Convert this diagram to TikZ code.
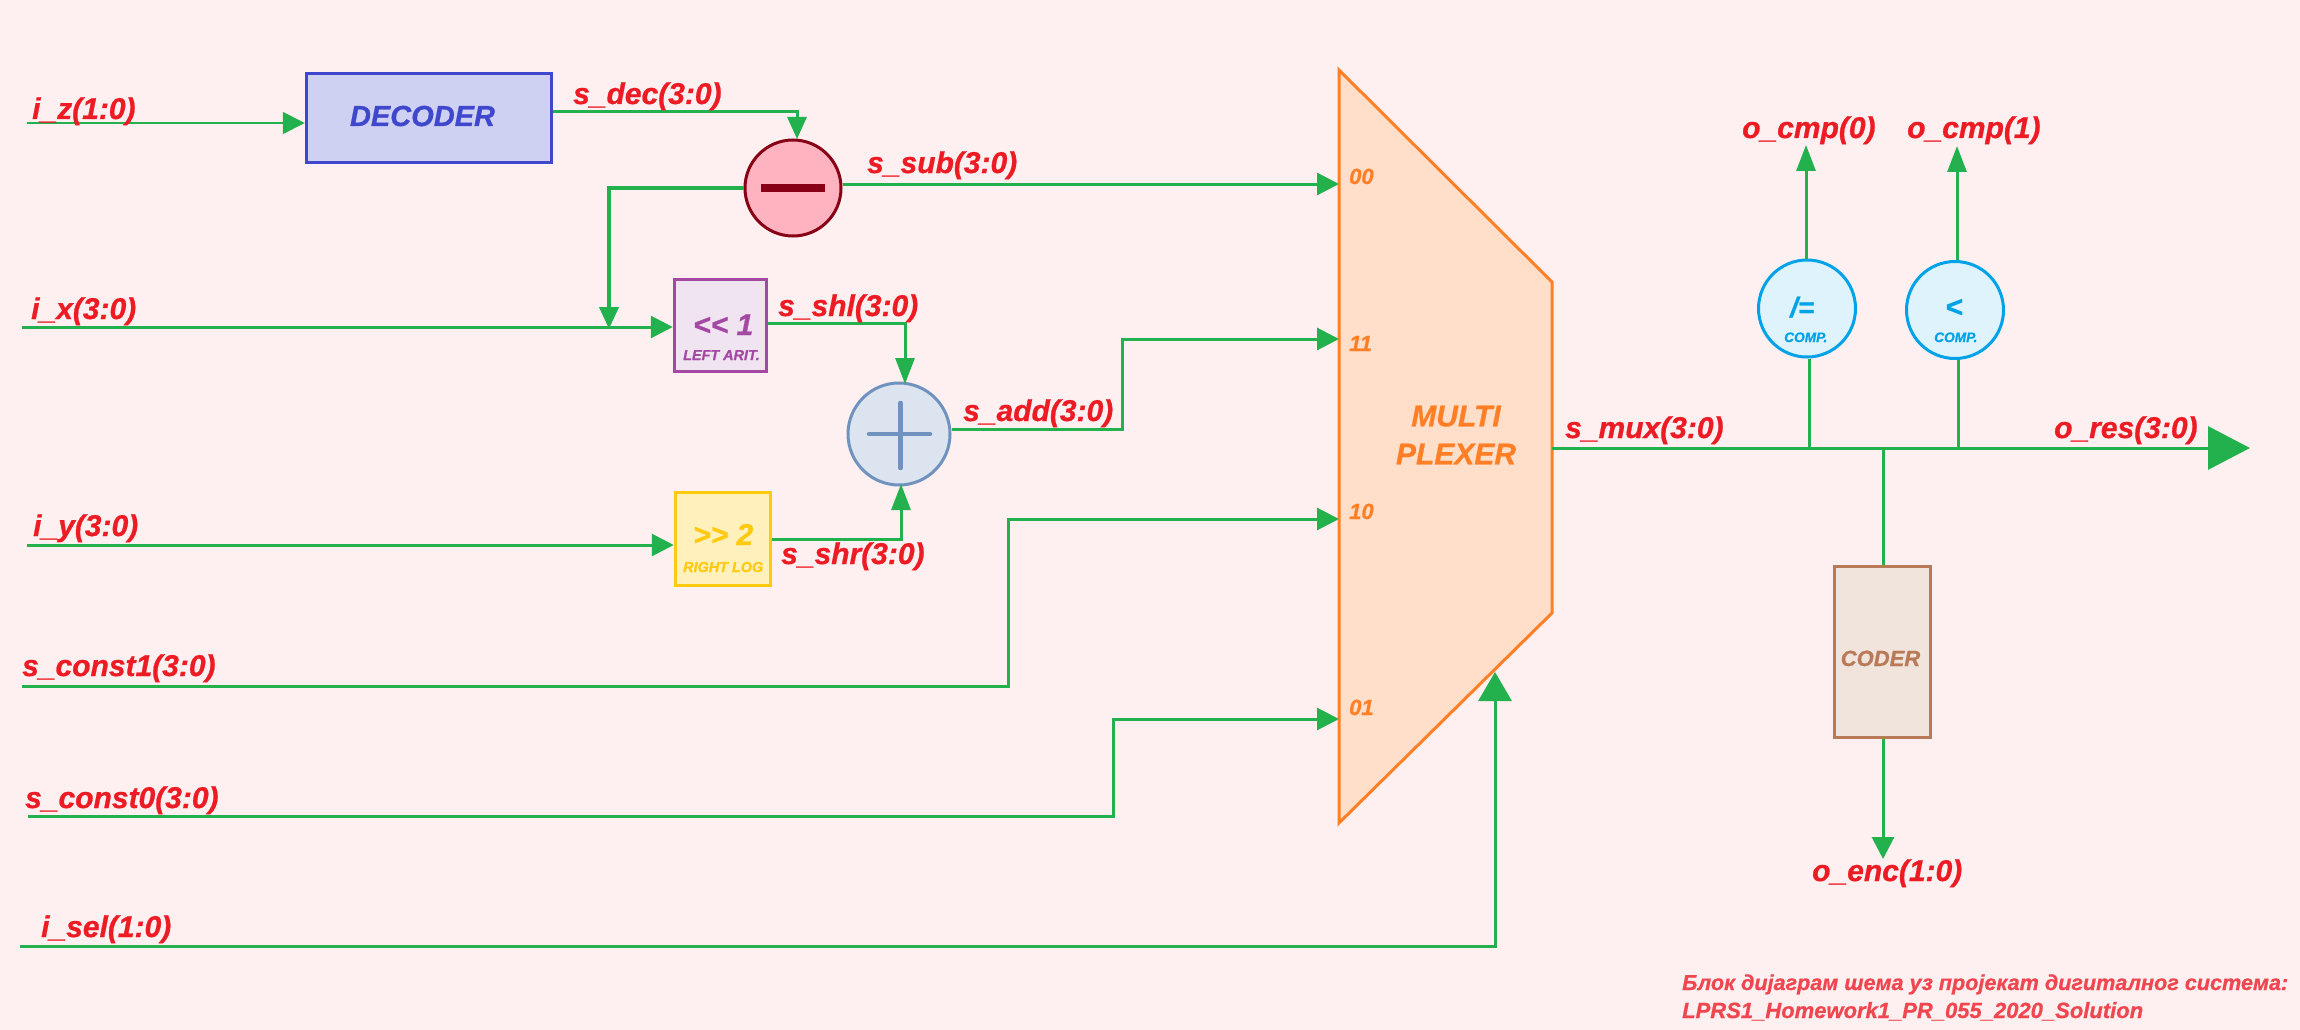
\documentclass[tikz,border=0pt]{standalone}
\usepackage{fontspec}
\setmainfont[BoldItalicFeatures={FakeBold=0.8}]{Liberation Sans}
\usetikzlibrary{arrows.meta}
\definecolor{bgcol}{HTML}{FEF0F0}
\definecolor{wirecol}{HTML}{22B14C}
\definecolor{sigcol}{HTML}{ED1C24}
\definecolor{notecol}{HTML}{F04650}
\definecolor{deccol}{HTML}{3F48CC}
\definecolor{subcol}{HTML}{880015}
\definecolor{subfill}{HTML}{FFB3C0}
\definecolor{shlcol}{HTML}{A349A4}
\definecolor{shrcol}{HTML}{FFC90E}
\definecolor{addcol}{HTML}{7092BE}
\definecolor{muxcol}{HTML}{FF7F27}
\definecolor{cmpcol}{HTML}{00A2E8}
\definecolor{codcol}{HTML}{B97A57}
\newcommand{\fs}[1]{\fontsize{#1}{#1}\selectfont\bfseries\itshape}
\tikzset{%
  wire/.style = {draw=wirecol, line width=3pt},
  thinwire/.style = {draw=wirecol, line width=2pt},
  tip/.style = {-{Triangle[length=22pt,width=22pt]}},
  narrowtip/.style = {-{Triangle[length=22pt,width=19pt]}},
  longtip/.style = {-{Triangle[length=26pt,width=19pt]}},
  seltip/.style = {-{Triangle[length=29pt,width=33pt]}},
  bigtip/.style = {-{Triangle[length=42pt,width=43pt]}},
  sig/.style = {anchor=base west, inner sep=0pt, text=sigcol, font=\fs{30}},
  note/.style = {anchor=base west, inner sep=0pt, text=notecol, font=\fs{22}},
  port/.style = {anchor=base west, inner sep=0pt, text=muxcol, font=\fs{22}},
  intext/.style = {anchor=base west, inner sep=0pt},
  block/.style = {rectangle, line width=3.5pt, inner sep=0pt, align=center},
  round/.style = {circle, line width=3pt, inner sep=0pt, align=center},
  decbox/.style = {block, draw=deccol, fill=deccol!25, text=deccol,
    minimum width=245pt, minimum height=89pt, font=\fs{29}, text height=16pt, text depth=0pt},
  shlbox/.style = {block, draw=shlcol, fill=shlcol!15,
    minimum width=92pt, minimum height=92pt},
  shrbox/.style = {block, draw=shrcol, fill=shrcol!28,
    minimum width=95pt, minimum height=93pt},
  codbox/.style = {block, draw=codcol, fill=codcol!20, text=codcol,
    minimum width=96pt, minimum height=171pt, font=\fs{22}, text height=28pt, text depth=0pt},
  cmpnode/.style = {round, draw=cmpcol, fill=cmpcol!13, minimum size=97pt},
  subnode/.style = {round, draw=subcol, fill=subfill, minimum size=96pt},
  addnode/.style = {round, draw=addcol, fill=addcol!25, minimum size=102pt}
}

\begin{document}
\begin{tikzpicture}[x=1pt,y=-1pt]
	\fill[bgcol] (0,0) rectangle (2300,1030);
	\useasboundingbox (0,0) rectangle (2300,1030);

	% multiplexer
	\draw[draw=muxcol, fill=muxcol!25, line width=3pt, line join=miter]
	  (1339,70) -- (1552,282) -- (1552,613) -- (1339,823) -- cycle;
	\node[text=muxcol, font=\fs{30}, align=center, inner sep=0pt] (mux) at (1456,435) {MULTI\\[8pt]PLEXER};
	\coordinate (p00) at (1339,184);
	\coordinate (p11) at (1339,339);
	\coordinate (p10) at (1339,519);
	\coordinate (p01) at (1339,719);
	\coordinate (psel) at (1495,672);
	\coordinate (mout) at (1552,448);

	% blocks
	\node[decbox] (dec) at (429,118) {\hspace*{-13pt}DECODER};
	\node[subnode] (sub) at (793,188) {};
	\node[shlbox] (shl) at (720.5,325.5) {};
	\node[intext, text=shlcol, font=\fs{30}] (shlop) at (693,335) {<\kern0pt< 1};
	\node[intext, text=shlcol, font=\fs{14.4}] (shlname) at (683,360) {LEFT ARIT.};
	\node[addnode] (add) at (899,434) {};
	\node[shrbox] (shr) at (723,539) {};
	\node[intext, text=shrcol, font=\fs{30}] (shrop) at (693,545) {>\kern0pt> 2};
	\node[intext, text=shrcol, font=\fs{14.4}] (shrname) at (683,572) {RIGHT LOG};
	\node[cmpnode] (neq) at (1807,308.5) {};
	\node[intext, text=cmpcol, font=\fs{28}] (neqop) at (1790,317) {/=};
	\node[intext, text=cmpcol, font=\fs{13.7}] (neqname) at (1784,342) {COMP.};
	\node[cmpnode] (lt) at (1955,310) {};
	\node[intext, text=cmpcol, font=\fs{30}] (ltop) at (1945,317) {<};
	\node[intext, text=cmpcol, font=\fs{13.7}] (ltname) at (1934,342) {COMP.};
	\node[codbox] (cod) at (1882.5,652) {\hspace*{-4pt}CODER};

	\draw[subcol, line width=8pt] ([xshift=-32pt]sub.center) -- ([xshift=32pt]sub.center);
	\draw[addcol, line width=4.5pt, line cap=round] (869,434) -- (930,434);
	\draw[addcol, line width=4.5pt, line cap=round] (900.5,403) -- (900.5,468);

	% free ends of the wires
	\coordinate (iz) at (27,123);
	\coordinate (ix) at (22,327);
	\coordinate (iy) at (27,545);
	\coordinate (c1) at (22,686);
	\coordinate (c0) at (28,816);
	\coordinate (isel) at (20,946);
	\coordinate (ores) at (2250,448);
	\coordinate (ocmp0) at (1806,145);
	\coordinate (ocmp1) at (1957,146);
	\coordinate (oenc) at (1883,859);
	\coordinate (jx) at (609,329);
	\coordinate (jc) at (1883,448);

	% wires
	\draw[thinwire, tip] (iz) -- (dec.west |- iz);
	\draw[wire, narrowtip] (dec.east |- 0,112) -| (797,139);
	\draw[wire, tip] (sub.east |- p00) -- (p00);
	\draw[wire, line width=4pt, narrowtip] (sub.west) -| (jx);
	\draw[wire, tip] (ix) -- (shl.west |- ix);
	\draw[wire, longtip] (shl.east |- 0,323) -| (905,384);
	\draw[wire, tip] (iy) -- (shr.west |- iy);
	\draw[wire, longtip] (shr.east |- 0,539) -| (901,484);
	\draw[wire, tip] (add.east |- 0,429) -- (1122,429) |- (p11);
	\draw[wire, tip] (c1) -- (1008,686) |- (p10);
	\draw[wire, tip] (c0) -- (1113,816) |- (p01);
	\draw[wire, seltip] (isel) -| (psel);
	\draw[wire, bigtip] (mout) -- (ores);
	\draw[wire, longtip] (neq.north -| ocmp0) -- (ocmp0);
	\draw[wire, longtip] (lt.north -| ocmp1) -- (ocmp1);
	\draw[wire] (neq.south -| 1809,0) -- (1809,448);
	\draw[wire] (lt.south -| 1958,0) -- (1958,448);
	\draw[wire] (jc) -- (cod.north -| jc);
	\draw[wire, tip] (cod.south -| oenc) -- (oenc);

	% signal names
	\node[sig] (liz) at (32,119) {i\_z(1:0)};
	\node[sig] (ldec) at (573,104) {s\_dec(3:0)};
	\node[sig] (lsub) at (867,173) {s\_sub(3:0)};
	\node[sig] (lix) at (31,319) {i\_x(3:0)};
	\node[sig] (lshl) at (778,316) {s\_shl(3:0)};
	\node[sig] (ladd) at (963,421) {s\_add(3:0)};
	\node[sig] (liy) at (33,536) {i\_y(3:0)};
	\node[sig] (lshr) at (781,564) {s\_shr(3:0)};
	\node[sig] (lc1) at (22,676) {s\_const1(3:0)};
	\node[sig] (lc0) at (25,808) {s\_const0(3:0)};
	\node[sig] (lsel) at (41,937) {i\_sel(1:0)};
	\node[sig] (lmux) at (1565,438) {s\_mux(3:0)};
	\node[sig] (lres) at (2054,438) {o\_res(3:0)};
	\node[sig] (lcmp0) at (1742,138) {o\_cmp(0)};
	\node[sig] (lcmp1) at (1907,138) {o\_cmp(1)};
	\node[sig] (lenc) at (1812,881) {o\_enc(1:0)};

	% multiplexer inputs
	\node[port] (l00) at (1349,184) {00};
	\node[port] (l11) at (1349,351) {11};
	\node[port] (l10) at (1349,519) {10};
	\node[port] (l01) at (1349,715) {01};

	\node[note, font=\fs{21.6}] (note1) at (1682,990) {Блок дијаграм шема уз пројекат дигиталног система:};
	\node[note] (note2) at (1682,1018) {LPRS1\_Homework1\_PR\_055\_2020\_Solution};
\end{tikzpicture}
\end{document}
